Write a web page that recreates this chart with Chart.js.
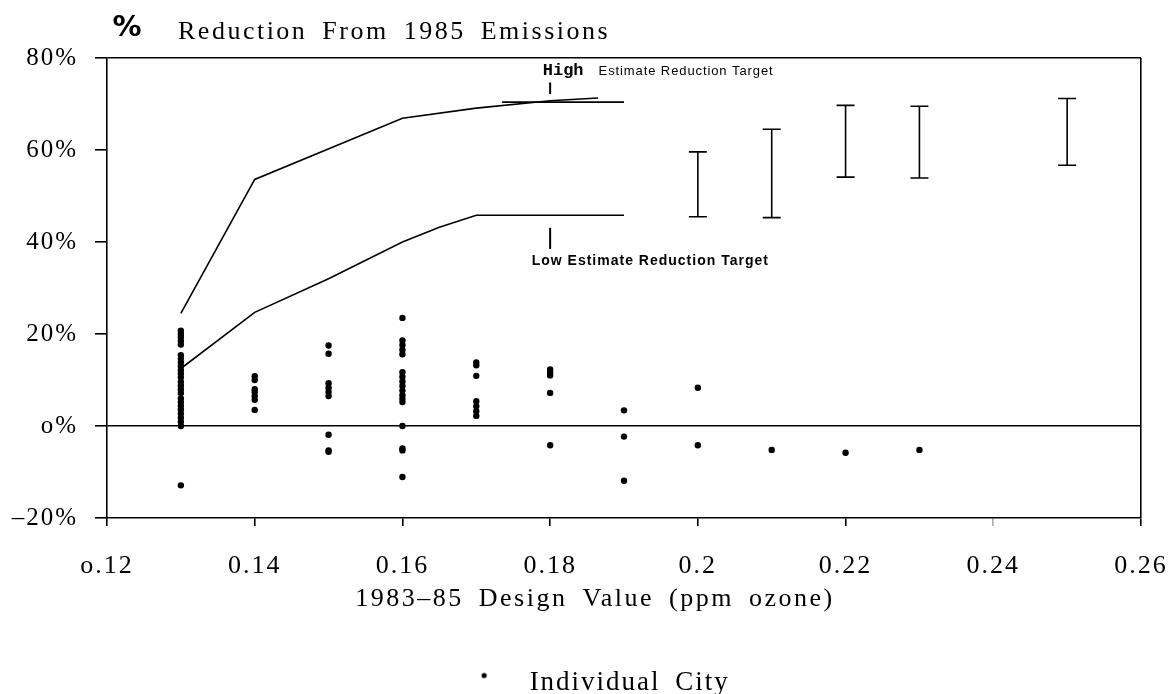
<!DOCTYPE html>
<html>
<head>
<meta charset="utf-8">
<script src="https://cdn.jsdelivr.net/npm/chart.js@4.4.1/dist/chart.umd.min.js"></script>
<style>
  html, body { margin: 0; padding: 0; background: #fff; }
  #wrap { width: 1171px; height: 694px; position: relative; }
</style>
</head>
<body>
<div id="wrap"><canvas id="chart"></canvas></div>
<script>
// axis ticks
const xTickValues = [0.12, 0.14, 0.16, 0.18, 0.2, 0.22, 0.24, 0.26];
const xTickLabels = ['o.12', '0.14', '0.16', '0.18', '0.2', '0.22', '0.24', '0.26'];
const yTickValues = [-20, 0, 20, 40, 60, 80];
const yTickLabels = ['\u201320%', 'o%', '20%', '40%', '60%', '80%'];

// individual cities: design value (ppm) and % reduction
const designValues = [0.13, 0.14, 0.15, 0.16, 0.17, 0.18, 0.19, 0.2, 0.21, 0.22, 0.23];
const cityReductions = [
    [20.7, 20.0, 19.3, 18.5, 17.7, 15.4, 14.6, 13.8, 13.0, 12.2, 11.4, 10.6, 9.6, 8.8, 8.0, 7.2, 6.0, 5.2, 4.4, 3.6, 2.7, 1.8, 0.9, 0, -12.9],
    [10.8, 10.0, 8.0, 7.4, 6.5, 5.7, 3.5],
    [17.5, 15.7, 9.3, 8.3, 7.4, 6.5, -1.9, -5.3, -5.6],
    [23.5, 18.6, 17.6, 16.6, 15.6, 11.7, 10.7, 9.7, 8.7, 7.7, 6.7, 5.9, 5.2, 0, -4.9, -5.3, -11.1],
    [13.8, 13.2, 10.9, 5.4, 4.3, 3.2, 2.2],
    [12.3, 11.6, 11.0, 7.2, -4.2],
    [3.4, -2.3, -11.9],
    [8.3, -4.2],
    [-5.2],
    [-5.8],
    [-5.2]
];

// reduction target curves
const highX = [0.13, 0.14, 0.16, 0.17, 0.18, 0.1865];
const highY = [24.5, 53.6, 66.9, 69.1, 70.7, 71.3];
const highFlatX = [0.1735, 0.19];
const highFlatY = [70.4, 70.4];
const lowX = [0.13, 0.14, 0.15, 0.16, 0.165, 0.17, 0.19];
const lowY = [12.5, 24.7, 32.0, 40.0, 43.2, 45.8, 45.8];

// ranges for higher design values
const rangeX = [0.2, 0.21, 0.22, 0.23, 0.25];
const rangeLow = [45.5, 45.3, 54.1, 53.9, 56.7];
const rangeHigh = [59.6, 64.5, 69.7, 69.5, 71.2];

const serif = '"Liberation Serif", "Times New Roman", serif';

const toPoints = (xs, ys) => xs.map((x, i) => ({x: x, y: ys[i]}));

const cityPoints = [];
designValues.forEach((dv, i) => {
    cityReductions[i].forEach(r => cityPoints.push({x: dv, y: r}));
});

// legend marker: small dot sitting well left of the text
const legendDot = document.createElement('canvas');
legendDot.width = 105;
legendDot.height = 24;
const dctx = legendDot.getContext('2d');
dctx.fillStyle = '#000';
dctx.beginPath();
dctx.arc(73, 5, 2.6, 0, Math.PI * 2);
dctx.fill();

function setSpacing(ctx) {
    ctx.letterSpacing = '2px';
    ctx.wordSpacing = '6px';
}

const spacing = {
    id: 'spacing',
    beforeLayout(chart) { setSpacing(chart.ctx); },
    beforeDraw(chart) { setSpacing(chart.ctx); }
};

const extras = {
    id: 'extras',
    afterDatasetsDraw(chart) {
        const {ctx, scales: {x, y}} = chart;
        ctx.save();
        ctx.strokeStyle = '#000';
        ctx.lineWidth = 1.6;
        rangeX.forEach((v, i) => {
            const px = x.getPixelForValue(v);
            const top = y.getPixelForValue(rangeHigh[i]);
            const bot = y.getPixelForValue(rangeLow[i]);
            ctx.beginPath();
            ctx.moveTo(px, top); ctx.lineTo(px, bot);
            ctx.moveTo(px - 9, top); ctx.lineTo(px + 9, top);
            ctx.moveTo(px - 9, bot); ctx.lineTo(px + 9, bot);
            ctx.stroke();
        });

        // pointers to the target labels
        const ptrX = x.getPixelForValue(0.18);
        ctx.lineWidth = 2;
        ctx.beginPath();
        ctx.moveTo(ptrX, y.getPixelForValue(74.7));
        ctx.lineTo(ptrX, y.getPixelForValue(72.2));
        ctx.moveTo(ptrX, y.getPixelForValue(43.1));
        ctx.lineTo(ptrX, y.getPixelForValue(38.5));
        ctx.stroke();

        ctx.fillStyle = '#000';
        ctx.textBaseline = 'alphabetic';
        ctx.textAlign = 'left';
        ctx.wordSpacing = '0px';
        const hx = x.getPixelForValue(0.179);
        const hy = y.getPixelForValue(76.4);
        ctx.letterSpacing = '0px';
        ctx.font = 'bold 17px "Liberation Mono", monospace';
        ctx.fillText('High', hx, hy);
        const hw = ctx.measureText('High').width;
        ctx.letterSpacing = '0.9px';
        ctx.font = '13px "Liberation Sans", Arial, sans-serif';
        ctx.fillText('Estimate Reduction Target', hx + hw + 15, hy);

        ctx.letterSpacing = '1px';
        ctx.font = 'bold 14px "Liberation Sans", Arial, sans-serif';
        ctx.fillText('Low Estimate Reduction Target', x.getPixelForValue(0.1775), y.getPixelForValue(34.9));
        ctx.restore();
    },
    afterDraw(chart) {
        const ctx = chart.ctx;
        ctx.save();
        ctx.fillStyle = '#000';
        ctx.textAlign = 'center';
        ctx.textBaseline = 'middle';
        ctx.letterSpacing = '0px';
        ctx.font = 'bold 29px "DejaVu Sans", sans-serif';
        ctx.fillText('%', 127, 28);
        ctx.letterSpacing = '2.5px';
        ctx.wordSpacing = '6px';
        ctx.font = '26px ' + serif;
        ctx.textAlign = 'left';
        ctx.textBaseline = 'alphabetic';
        ctx.fillText('Reduction From 1985 Emissions', 178, 39);
        ctx.textAlign = 'center';
        ctx.textBaseline = 'middle';
        ctx.fillText('1983\u201385 Design Value (ppm ozone)', 595, 599);
        ctx.restore();
    }
};

const lineStyle = {
    showLine: true,
    borderColor: '#000',
    borderWidth: 1.6,
    pointRadius: 0,
    fill: false,
    tension: 0
};

const ctx = document.getElementById('chart').getContext('2d');
new Chart(ctx, {
    type: 'scatter',
    data: {
        datasets: [
            Object.assign({label: 'High Estimate', data: toPoints(highX, highY)}, lineStyle),
            Object.assign({label: 'High Estimate flat', data: toPoints(highFlatX, highFlatY)}, lineStyle),
            Object.assign({label: 'Low Estimate', data: toPoints(lowX, lowY)}, lineStyle),
            {
                label: 'Individual City',
                data: cityPoints,
                pointRadius: 3.2,
                pointBackgroundColor: '#000',
                pointBorderWidth: 0,
                borderColor: '#000',
                backgroundColor: '#000'
            }
        ]
    },
    options: {
        responsive: true,
        maintainAspectRatio: false,
        devicePixelRatio: 1,
        animation: false,
        layout: {
            padding: {top: 58, right: 30, bottom: -12, left: 0}
        },
        plugins: {
            legend: {
                display: true,
                position: 'bottom',
                labels: {
                    usePointStyle: true,
                    pointStyleWidth: 105,
                    padding: 0,
                    color: '#000',
                    font: {family: serif, size: 27},
                    filter: item => item.text === 'Individual City',
                    generateLabels: chart => {
                        const items = Chart.defaults.plugins.legend.labels.generateLabels(chart);
                        items.forEach(it => { it.pointStyle = legendDot; });
                        return items;
                    }
                }
            },
            tooltip: {enabled: false}
        },
        scales: {
            x: {
                type: 'linear',
                min: 0.12,
                max: 0.26,
                afterBuildTicks: scale => { scale.ticks = xTickValues.map(v => ({value: v})); },
                afterFit: scale => {
                    scale.height = 151;
                    scale.paddingLeft = 0;
                    scale.paddingRight = 0;
                },
                border: {display: true, color: '#000', width: 1.6},
                grid: {
                    drawOnChartArea: true,
                    color: c => (c.tick && Math.abs(c.tick.value - 0.26) < 1e-6) ? '#000' : 'rgba(0,0,0,0)',
                    lineWidth: 1.6,
                    tickColor: c => (c.tick && Math.abs(c.tick.value - 0.24) < 1e-6) ? '#aaa' : '#000',
                    tickLength: 8
                },
                ticks: {
                    color: '#000',
                    padding: 25,
                    maxRotation: 0,
                    autoSkip: false,
                    font: {family: serif, size: 26},
                    callback: (value, index) => xTickLabels[index]
                }
            },
            y: {
                type: 'linear',
                min: -20,
                max: 80,
                afterBuildTicks: scale => { scale.ticks = yTickValues.map(v => ({value: v})); },
                afterFit: scale => { scale.width = 107; },
                border: {display: true, color: '#000', width: 1.6},
                grid: {
                    drawOnChartArea: true,
                    color: c => (c.tick && (c.tick.value === 0 || c.tick.value === 80)) ? '#000' : 'rgba(0,0,0,0)',
                    lineWidth: 1.6,
                    tickColor: '#000',
                    tickLength: 12
                },
                ticks: {
                    color: '#000',
                    padding: 17,
                    font: {family: serif, size: 25},
                    callback: (value, index) => yTickLabels[index]
                }
            }
        }
    },
    plugins: [spacing, extras]
});
</script>
</body>
</html>
